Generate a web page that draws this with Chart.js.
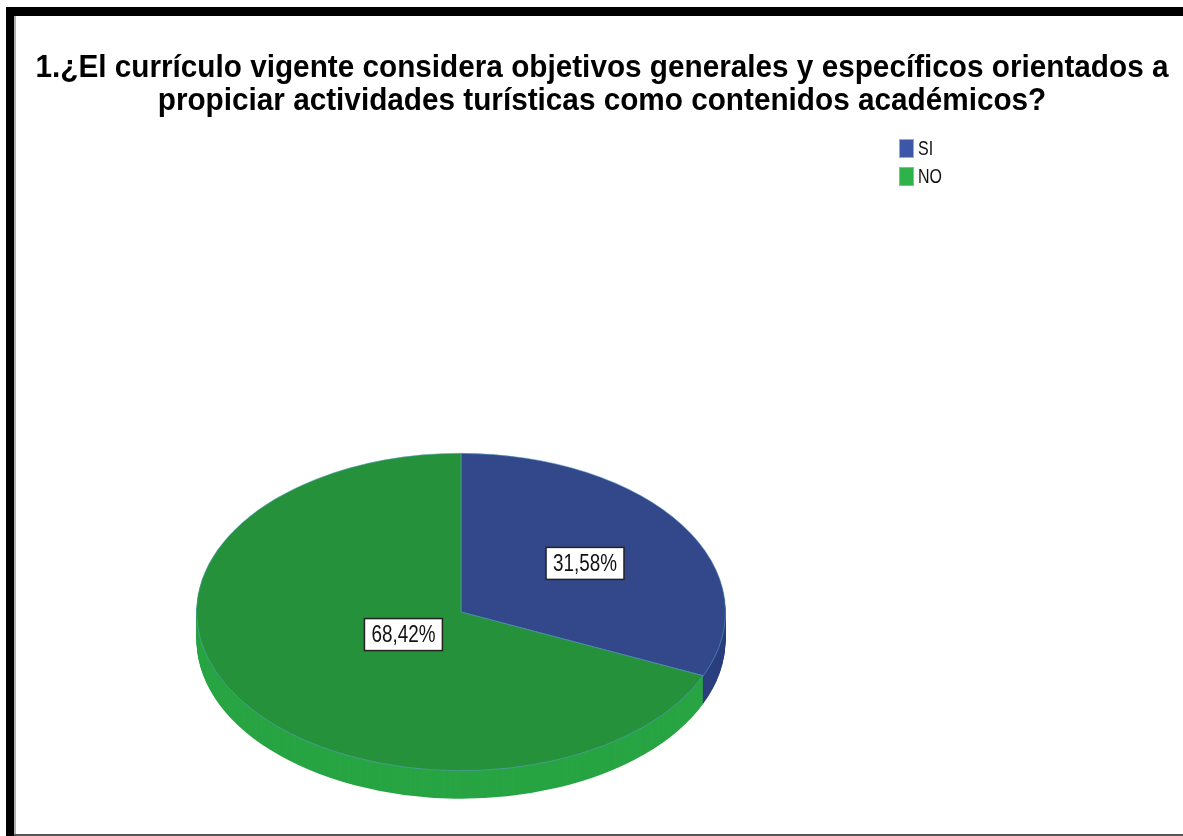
<!DOCTYPE html>
<html>
<head>
<meta charset="utf-8">
<script src="https://cdn.jsdelivr.net/npm/chart.js@4"></script>
<style>
  body { margin: 0; background: #fff; width: 1183px; height: 836px; overflow: hidden; position: relative; }
  #frameTop { position: absolute; left: 6px; top: 7px; width: 1177px; height: 9px; background: #000; }
  #frameLeft { position: absolute; left: 6px; top: 7px; width: 8px; height: 829px; background: #000; }
  #frameLeftGrey { position: absolute; left: 14px; top: 16px; width: 2px; height: 820px; background: #b0b0b0; }
  #frameBottom { position: absolute; left: 14px; top: 834px; width: 1169px; height: 2px; background: #555; }
  #chart { position: absolute; left: 0; top: 0; }
  #title { position: absolute; left: 0; top: 50px; width: 1204px; text-align: center;
    font: bold 31px "Liberation Sans", Arial, sans-serif; line-height: 33px; color: #000; }
  #title span { display: inline-block; white-space: nowrap; }
  #legend { position: absolute; left: 899px; top: 134px; font: 20px "Liberation Sans", sans-serif; color: #111; }
  .item { display: flex; align-items: center; height: 28px; }
  .box { width: 15px; height: 19px; margin-right: 4px; box-sizing: border-box; border: 1px solid #7fb4d8; }
  .item span { display: inline-block; transform: scaleX(0.8); transform-origin: left center; }
</style>
</head>
<body>
<div id="frameTop"></div>
<div id="frameLeft"></div>
<div id="frameLeftGrey"></div>
<div id="frameBottom"></div>
<canvas id="chart" width="1183" height="836"></canvas>
<div id="title"></div>
<div id="legend"></div>
<script>
const titleLines = [
  '1.¿El currículo vigente considera objetivos generales y específicos orientados a',
  'propiciar actividades turísticas como contenidos académicos?'
];
const categories = ['SI', 'NO'];
const percentages = [31.58, 68.42];
const topColors = ['#32488a', '#25913a'];
const sideColors = ['#2b3e7e', '#28a443'];
const legendColors = ['#3c56a8', '#2db34a'];
const labelFractions = [0.56, 0.26];

const CENTER_Y = 612;   // screen y of pie centre
const SQUASH = 0.6;     // vertical tilt of the disc
const DEPTH = 28;       // thickness of the disc

// title
const titleEl = document.getElementById('title');
titleLines.forEach(t => {
  const s = document.createElement('span');
  s.textContent = t;
  titleEl.appendChild(s);
  titleEl.appendChild(document.createElement('br'));
});
const firstW = titleEl.querySelector('span').getBoundingClientRect().width;
titleEl.style.transform = 'scaleX(' + (1133 / firstW) + ')';

// legend
const legendEl = document.getElementById('legend');
categories.forEach((c, i) => {
  const row = document.createElement('div');
  row.className = 'item';
  row.innerHTML = '<div class="box" style="background:' + legendColors[i] + '"></div><span>' + c + '</span>';
  legendEl.appendChild(row);
});

function fmt(v) {
  return v.toFixed(2).replace('.', ',') + '%';
}

const pie3d = {
  id: 'pie3d',
  beforeDatasetsDraw(chart) {
    const ctx = chart.ctx;
    const arcs = chart.getDatasetMeta(0).data;
    const x = arcs[0].x, y = arcs[0].y;
    ctx.save();
    ctx.translate(x, CENTER_Y);
    ctx.scale(1, SQUASH);
    ctx.translate(-x, -y);
    // side of the disc
    for (let d = DEPTH; d > 0; d--) {
      arcs.forEach((a, i) => {
        ctx.beginPath();
        ctx.moveTo(x, y + d / SQUASH);
        ctx.arc(x, y + d / SQUASH, a.outerRadius, a.startAngle, a.endAngle);
        ctx.closePath();
        ctx.fillStyle = sideColors[i];
        ctx.fill();
      });
    }
  },
  afterDatasetsDraw(chart) {
    const ctx = chart.ctx;
    ctx.restore();
    const arcs = chart.getDatasetMeta(0).data;
    arcs.forEach((a, i) => {
      const mid = (a.startAngle + a.endAngle) / 2;
      const r = a.outerRadius * labelFractions[i];
      const px = a.x + Math.cos(mid) * r;
      const py = CENTER_Y + Math.sin(mid) * r * SQUASH;
      const txt = fmt(percentages[i]);
      ctx.save();
      ctx.font = '23px "Liberation Sans", sans-serif';
      const w = ctx.measureText(txt).width * 0.82 + 14;
      const h = 32;
      ctx.fillStyle = '#fff';
      ctx.fillRect(px - w / 2, py - h / 2, w, h);
      ctx.lineWidth = 1.5;
      ctx.strokeStyle = '#222';
      ctx.strokeRect(px - w / 2, py - h / 2, w, h);
      ctx.fillStyle = '#111';
      ctx.textAlign = 'center';
      ctx.textBaseline = 'middle';
      ctx.translate(px, py + 1);
      ctx.scale(0.82, 1);
      ctx.fillText(txt, 0, 0);
      ctx.restore();
    });
  }
};

new Chart(document.getElementById('chart'), {
  type: 'pie',
  data: {
    labels: categories,
    datasets: [{
      data: percentages,
      backgroundColor: topColors,
      borderColor: 'rgba(90,160,200,0.7)',
      borderWidth: 1
    }]
  },
  options: {
    responsive: false,
    animation: false,
    layout: { padding: { left: 196, right: 457, top: 300, bottom: 6 } },
    plugins: {
      legend: { display: false },
      tooltip: { enabled: false },
      title: { display: false }
    }
  },
  plugins: [pie3d]
});
</script>
</body>
</html>
